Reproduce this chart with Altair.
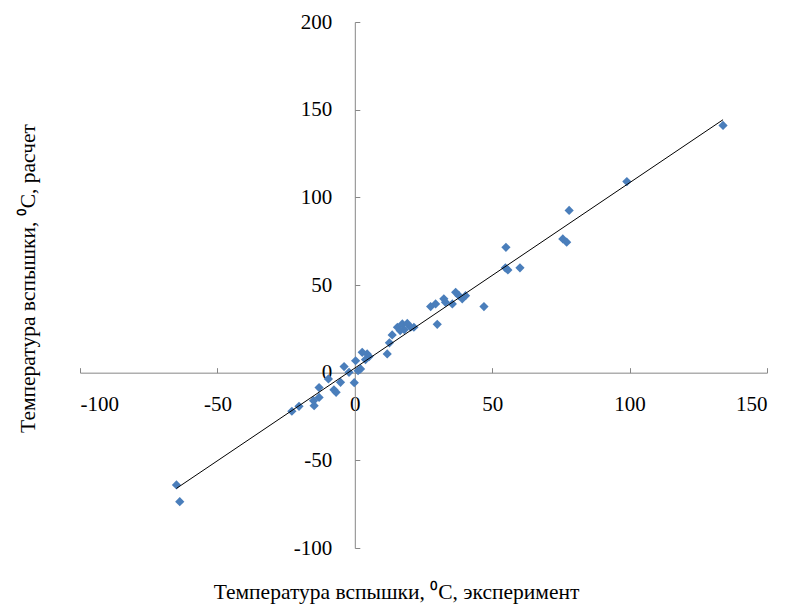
import altair as alt
import pandas as pd

# experimental flash point (x) vs calculated (y), deg C
exp_vals = [134, 99, 78, 75.7, 77.1, 55, 54.8, 55.7, 60.1, 47,
            30, 27.6, 29.4, 32.4, 33.0, 35.5, 36.7, 37.9, 39.1, 40.3,
            15.5, 17.3, 19.1, 20.3, 21.5, 13.6, 12.6, 11.8, 2.7, 4.5,
            5.2, 3.9, 0.3, -3.9, -2.1, 1.2, 2.1, -0.2, -5.2, -9.6,
            -7.6, -6.8, -13, -13, -14.8, -15, -20.3, -22.9, -64.9, -63.7,
            18.0, 16.5]
calc_vals = [141, 109, 92.5, 76.3, 74.4, 71.5, 59.8, 58.6, 59.8, 37.7,
             27.6, 37.7, 39.2, 42.1, 40.1, 39.2, 45.8, 43.9, 42.1, 43.9,
             25.9, 27.8, 28.1, 25.9, 25.9, 21.5, 17.0, 10.7, 11.6, 10.7,
             9.2, 7.5, 6.8, 3.5, 0.2, 1.1, 2.1, -5.7, -5.5, -3.6,
             -9.8, -11.2, -8.5, -14.1, -18.8, -16.0, -19.2, -22.0, -64.0, -73.6,
             24.5, 24.0]

x_ticks = [-100, -50, 0, 50, 100, 150]
y_ticks = [-100, -50, 0, 50, 100, 150, 200]

df = pd.DataFrame({"x": exp_vals, "y": calc_vals})

W, H = 687, 526
FONT = "Liberation Serif"
GRAY = "#868686"
LBL = "'' + datum.value"

xscale = alt.Scale(domain=[-100, 150], nice=False, zero=False)
yscale = alt.Scale(domain=[-100, 200], nice=False, zero=False)

points = alt.Chart(df).mark_point(
    shape="diamond", filled=True, size=85, color="#4A7EBB", opacity=1
).encode(
    x=alt.X("x:Q", scale=xscale, axis=alt.Axis(
        orient="bottom", offset=-H / 3, domain=False, ticks=False, tickSize=0,
        grid=False, values=x_ticks, labelExpr=LBL, labelFont=FONT,
        labelFontSize=21, labelColor="black", labelPadding=21,
        title="Температура вспышки, ⁰С, эксперимент",
        titleFont=FONT, titleFontSize=21.5, titleFontWeight="normal",
        titleColor="black", titleX=316, titleY=226,
        titleAlign="center", titleBaseline="alphabetic")),
    y=alt.Y("y:Q", scale=yscale, axis=alt.Axis(
        orient="left", offset=-0.4 * W, domain=False, ticks=False, tickSize=0,
        grid=False, values=y_ticks, labelExpr=LBL, labelFont=FONT,
        labelFontSize=21, labelColor="black", labelPadding=23,
        labelBaseline="middle",
        title="Температура вспышки, ⁰С, расчет",
        titleFont=FONT, titleFontSize=21.5, titleFontWeight="normal",
        titleColor="black", titleAngle=270, titleX=-320, titleY=256,
        titleAlign="center", titleBaseline="alphabetic")),
)

trend = alt.Chart(df).transform_regression("x", "y").mark_line(
    color="black", strokeWidth=1
).encode(
    x=alt.X("x:Q", scale=xscale, axis=alt.Axis(
        orient="top", offset=-2 * H / 3, domain=True, domainColor=GRAY,
        ticks=True, tickColor=GRAY, tickSize=5, labels=False, grid=False,
        values=x_ticks, title=None)),
    y=alt.Y("y:Q", scale=yscale, axis=alt.Axis(
        orient="right", offset=-0.6 * W, domain=True, domainColor=GRAY,
        ticks=True, tickColor=GRAY, tickSize=5, labels=False, grid=False,
        values=y_ticks, title=None)),
)

chart = alt.layer(points, trend).resolve_axis(
    x="independent", y="independent"
).properties(
    width=W, height=H, autosize="none",
    padding={"left": 72, "top": 14, "right": 16, "bottom": 58},
).configure_view(stroke=None)

chart.save("out.html", embed_options={"renderer": "svg", "actions": False})
